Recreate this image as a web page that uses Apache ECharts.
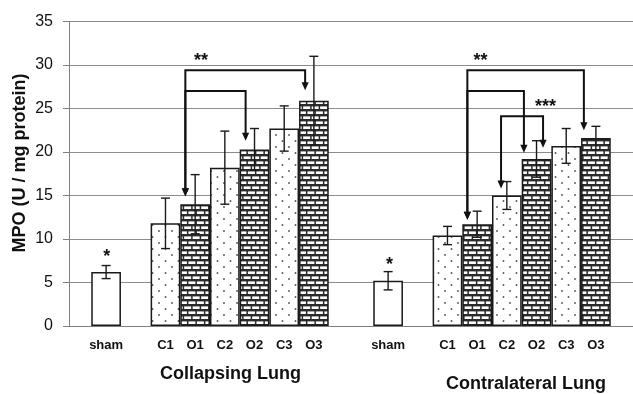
<!DOCTYPE html>
<html><head><meta charset="utf-8">
<script src="https://cdn.jsdelivr.net/npm/echarts@6/dist/echarts.min.js"></script>
<style>html,body{margin:0;padding:0;background:#fff}#c{width:633px;height:394px}</style>
</head><body><div id="c"></div>
<script>
// ---------------- DATA ----------------
const groupNames = ['Collapsing Lung', 'Contralateral Lung'];
const barLabels = ['sham', 'C1', 'O1', 'C2', 'O2', 'C3', 'O3'];
const barKinds = ['sham', 'C', 'O', 'C', 'O', 'C', 'O'];
const collapsingMean = [6.2, 11.8, 14.0, 18.2, 20.3, 22.7, 25.9];
const collapsingErr = [0.75, 2.9, 3.4, 4.2, 2.4, 2.6, 5.1];
const contralateralMean = [5.2, 10.4, 11.7, 15.0, 19.2, 20.7, 21.6];
const contralateralErr = [1.05, 1.05, 1.5, 1.6, 2.1, 2.0, 1.35];
const yMin = 0, yMax = 35, yStep = 5;
const yAxisTitle = 'MPO (U / mg protein)';
// significance annotations (values in MPO units)
const brackets = [
  { group: 0, from: 'O1', to: 'O3', level: 29.4, fromTip: 14.9, toTip: 27.1 },
  { group: 0, from: 'O1', to: 'O2', level: 27.0, fromTip: 14.9, toTip: 21.3 },
  { group: 1, from: 'O1', to: 'O3', level: 29.4, fromTip: 12.2, toTip: 22.5 },
  { group: 1, from: 'O1', to: 'O2', level: 27.0, fromTip: 12.2, toTip: 19.9 },
  { group: 1, from: 'C2', to: 'O2', level: 24.1, fromTip: 15.8, toTip: 20.5 }
];
const starNotes = [
  { group: 0, at: 'sham', text: '*', y: 8.45 },
  { group: 1, at: 'sham', text: '*', y: 7.6 },
  { group: 0, at: 'O1', text: '**', y: 31.0 },
  { group: 1, at: 'O1', text: '**', y: 31.0 },
  { group: 1, at: 'O2', text: '***', y: 25.7 }
];

// ---------------- LAYOUT ----------------
const SLOT_COUNT = 38;            // half-bar slots along the x axis
const SLOT_PX = 15.1;
const groupStartSlot = [2, 21];   // slot of the sham bar in each group
const bracketDx = [[-0.66, -0.59], [-0.66, -0.60], [-0.66, -0.81], [-0.66, -0.85], [-0.39, 0.44]];
const starDx = [0.05, 0.1, 0.4, 0.23, 0.6];
const font = '"Liberation Sans", Arial, sans-serif';
function slotOf(g, i) { return groupStartSlot[g] + (i === 0 ? 0 : 2 * i + 2); }
function slotOfLabel(g, lbl) { return slotOf(g, barLabels.indexOf(lbl)); }

// ---------------- PATTERNS ----------------
function brickPattern() {
  const c = document.createElement('canvas'); c.width = 17; c.height = 10;
  const x = c.getContext('2d');
  x.fillStyle = '#2a2a2a'; x.fillRect(0, 0, 17, 10);
  x.fillStyle = '#ffffff';
  x.fillRect(1.4, 1.4, 7.0, 2.6); x.fillRect(9.9, 1.4, 7.0, 2.6);
  x.fillRect(5.65, 6.4, 7.0, 2.6); x.fillRect(-2.85, 6.4, 7.0, 2.6); x.fillRect(14.15, 6.4, 7.0, 2.6);
  return { image: c, repeat: 'repeat' };
}
function dotPattern() {
  const c = document.createElement('canvas'); c.width = 13; c.height = 12;
  const x = c.getContext('2d');
  x.fillStyle = '#ffffff'; x.fillRect(0, 0, 13, 12);
  x.fillStyle = '#555555';
  x.beginPath(); x.arc(3, 3, 0.95, 0, Math.PI * 2); x.fill();
  x.beginPath(); x.arc(9.5, 9, 0.95, 0, Math.PI * 2); x.fill();
  return { image: c, repeat: 'repeat' };
}
const fills = { sham: '#ffffff', C: dotPattern(), O: brickPattern() };

// ---------------- BUILD ----------------
const means = [collapsingMean, contralateralMean];
const errs = [collapsingErr, contralateralErr];
const categories = new Array(SLOT_COUNT).fill('');
const barData = new Array(SLOT_COUNT).fill('-');
const errData = [];
for (let g = 0; g < 2; g++) {
  for (let i = 0; i < barLabels.length; i++) {
    const s = slotOf(g, i);
    categories[s] = barLabels[i];
    barData[s] = { value: means[g][i], itemStyle: { color: fills[barKinds[i]] } };
    errData.push([s, means[g][i] - errs[g][i], means[g][i] + errs[g][i]]);
  }
}

const chart = echarts.init(document.getElementById('c'), null, { renderer: 'canvas' });
chart.setOption({
  animation: false,
  backgroundColor: '#ffffff',
  grid: { left: 69, top: 21.5, width: SLOT_COUNT * SLOT_PX, height: 304.5, containLabel: false },
  xAxis: {
    type: 'category', data: categories, boundaryGap: true,
    axisLine: { show: true, lineStyle: { color: '#808080', width: 1 } },
    axisTick: { show: false },
    axisLabel: { interval: 0, margin: 13, fontSize: 13, fontWeight: 'bold', color: '#111', fontFamily: font }
  },
  yAxis: {
    type: 'value', min: yMin, max: yMax, interval: yStep,
    axisLine: { show: true, lineStyle: { color: '#808080', width: 1 } },
    axisTick: { show: true, length: 6, lineStyle: { color: '#808080' } },
    axisLabel: { margin: 16, fontSize: 16, color: '#111', fontFamily: font },
    splitLine: { show: true, lineStyle: { color: '#8c8c8c', width: 1 } }
  },
  series: [
    {
      type: 'bar', data: barData, barWidth: '200%', z: 2,
      itemStyle: { borderColor: '#1a1a1a', borderWidth: 1.5 }
    },
    {
      type: 'custom', data: errData, z: 3, clip: false,
      encode: { x: 0, y: [1, 2] },
      renderItem: function (params, api) {
        const lo = api.coord([api.value(0), api.value(1)]);
        const hi = api.coord([api.value(0), api.value(2)]);
        const hw = 4.5;
        const st = { stroke: '#1a1a1a', lineWidth: 1.4 };
        return {
          type: 'group', children: [
            { type: 'line', shape: { x1: lo[0], y1: lo[1], x2: hi[0], y2: hi[1] }, style: st },
            { type: 'line', shape: { x1: lo[0] - hw, y1: lo[1], x2: lo[0] + hw, y2: lo[1] }, style: st },
            { type: 'line', shape: { x1: hi[0] - hw, y1: hi[1], x2: hi[0] + hw, y2: hi[1] }, style: st }
          ]
        };
      }
    },
    {
      type: 'custom', z: 4, clip: false,
      data: brackets.map(b => [slotOfLabel(b.group, b.from), b.level]),
      encode: { x: 0, y: 1 },
      renderItem: function (params, api) {
        const b = brackets[params.dataIndex];
        const d = bracketDx[params.dataIndex];
        const bw = api.size([1, 0])[0];
        const xf = api.coord([slotOfLabel(b.group, b.from), 0])[0] + d[0] * bw;
        const xt = api.coord([slotOfLabel(b.group, b.to), 0])[0] + d[1] * bw;
        const yl = api.coord([0, b.level])[1];
        const yf = api.coord([0, b.fromTip])[1];
        const yt = api.coord([0, b.toTip])[1];
        const ah = 8, aw = 3.6;
        return {
          type: 'group', children: [
            { type: 'polyline', shape: { points: [[xf, yf - ah + 1], [xf, yl], [xt, yl], [xt, yt - ah + 1]] },
              style: { stroke: '#111', lineWidth: 2, fill: null } },
            { type: 'polygon', shape: { points: [[xf - aw, yf - ah], [xf + aw, yf - ah], [xf, yf]] }, style: { fill: '#111' } },
            { type: 'polygon', shape: { points: [[xt - aw, yt - ah], [xt + aw, yt - ah], [xt, yt]] }, style: { fill: '#111' } }
          ]
        };
      }
    },
    {
      type: 'custom', z: 5, clip: false,
      data: starNotes.map(s => [slotOfLabel(s.group, s.at), s.y]),
      encode: { x: 0, y: 1 },
      renderItem: function (params, api) {
        const s = starNotes[params.dataIndex];
        const bw = api.size([1, 0])[0];
        const p = api.coord([api.value(0), api.value(1)]);
        return {
          type: 'text', x: p[0] + starDx[params.dataIndex] * bw, y: p[1] + 5,
          style: { text: s.text, font: 'bold 18px ' + font, fill: '#111', align: 'center', verticalAlign: 'middle' }
        };
      }
    }
  ],
  graphic: [
    { type: 'text', x: 20, y: 163, rotation: Math.PI / 2,
      style: { text: yAxisTitle, font: 'bold 18px ' + font, fill: '#111', align: 'center', verticalAlign: 'middle' } },
    { type: 'text', x: 230.5, y: 374, style: { text: groupNames[0], font: 'bold 18px ' + font, fill: '#111', align: 'center', verticalAlign: 'middle' } },
    { type: 'text', x: 526, y: 384.5, style: { text: groupNames[1], font: 'bold 18px ' + font, fill: '#111', align: 'center', verticalAlign: 'middle' } }
  ]
});
</script>
</body></html>
